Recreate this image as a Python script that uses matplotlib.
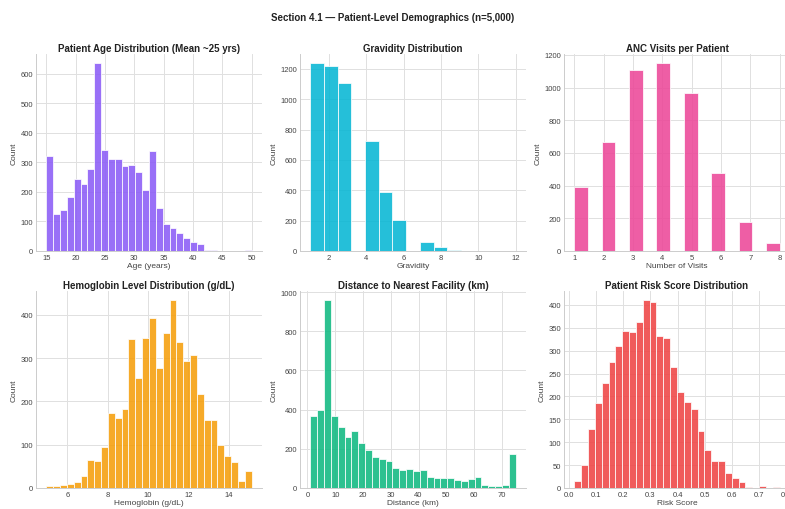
import numpy as np
import matplotlib
matplotlib.use("Agg")
import matplotlib.pyplot as plt

plt.rcParams['font.family'] = ['Liberation Sans', 'DejaVu Sans']

# histogram counts (bin ranges + counts per bin)
age_range = (15, 50)
age_counts = [320, 125, 140, 182, 245, 228, 278, 635, 342, 312, 310, 287, 290, 268, 208,
              337, 145, 93, 78, 60, 43, 30, 25, 5, 2, 1, 1, 1, 1, 2]

grav_range = (1, 12)
grav_counts = [1237, 1217, 1110, 0, 722, 392, 203, 0, 57, 25, 5, 1, 1, 0, 1]

anc_range = (1, 8)
anc_counts = [390, 0, 670, 0, 1105, 0, 1148, 0, 965, 0, 478, 0, 180, 0, 48]

hb_range = (4.95, 15.15)
hb_counts = [5, 5, 8, 10, 13, 28, 65, 62, 95, 172, 161, 182, 343, 255, 346,
             393, 276, 357, 433, 336, 293, 307, 216, 158, 158, 100, 75, 60, 17, 40]

dist_range = (1, 75)
dist_counts = [370, 400, 958, 370, 312, 258, 292, 228, 195, 160, 147, 140, 103, 92, 97,
               85, 92, 55, 50, 50, 50, 40, 36, 48, 55, 15, 12, 12, 15, 175]

risk_range = (0.02, 0.776)
risk_counts = [15, 50, 128, 186, 230, 275, 310, 343, 341, 362, 410, 407, 333, 328, 265,
               209, 187, 172, 125, 83, 58, 58, 33, 22, 13, 3, 0, 5, 0, 2]

panels = [
    ("Patient Age Distribution (Mean ~25 yrs)", "Age (years)", age_range, age_counts,
     "#8b5cf6", np.arange(15, 51, 5), np.arange(0, 601, 100)),
    ("Gravidity Distribution", "Gravidity", grav_range, grav_counts,
     "#06b6d4", np.arange(2, 13, 2), np.arange(0, 1201, 200)),
    ("ANC Visits per Patient", "Number of Visits", anc_range, anc_counts,
     "#ec4899", np.arange(1, 9), np.arange(0, 1201, 200)),
    ("Hemoglobin Level Distribution (g/dL)", "Hemoglobin (g/dL)", hb_range, hb_counts,
     "#f59e0b", np.arange(6, 15, 2), np.arange(0, 401, 100)),
    ("Distance to Nearest Facility (km)", "Distance (km)", dist_range, dist_counts,
     "#10b981", np.arange(0, 71, 10), np.arange(0, 1001, 200)),
    ("Patient Risk Score Distribution", "Risk Score", risk_range, risk_counts,
     "#ef4444", np.round(np.arange(0, 0.81, 0.1), 1), np.arange(0, 401, 50)),
]

fig = plt.figure(figsize=(7.85, 5.1), dpi=100)
fig.suptitle("Section 4.1 \u2014 Patient-Level Demographics (n=5,000)",
             fontsize=7, fontweight='bold', y=0.974, x=0.5, color='#222222')

lefts = [36 / 785, 300 / 785, 564 / 785]
bottoms = [(510 - 252) / 510, (510 - 489) / 510]
w, h = 226 / 785, 197 / 510

for i, (title, xlabel, rng, counts, color, xt, yt) in enumerate(panels):
    ax = fig.add_axes([lefts[i % 3], bottoms[i // 3], w, h])
    edges = np.linspace(rng[0], rng[1], len(counts) + 1)
    ax.bar(edges[:-1], counts, width=np.diff(edges), align='edge', color=color,
           alpha=0.88, edgecolor='white', linewidth=0.6, zorder=2)
    ax.set_title(title, fontsize=7, fontweight='bold', color='#222222', pad=2.5)
    ax.set_xlabel(xlabel, fontsize=6, color='#444444', labelpad=1)
    ax.set_ylabel("Count", fontsize=6, color='#444444', labelpad=2)
    ax.set_xticks(xt)
    if i == 5:
        ax.set_xticklabels([f"{v:.1f}" for v in xt])
    ax.set_yticks(yt)
    ax.tick_params(labelsize=5.5, colors='#444444', length=0, pad=2)
    ax.grid(True, color='#e0e0e0', linewidth=0.7, zorder=0)
    ax.set_axisbelow(True)
    for s in ['top', 'right']:
        ax.spines[s].set_visible(False)
    for s in ['left', 'bottom']:
        ax.spines[s].set_color('#cccccc')
        ax.spines[s].set_linewidth(0.7)

fig.savefig("out.png", dpi=100)
